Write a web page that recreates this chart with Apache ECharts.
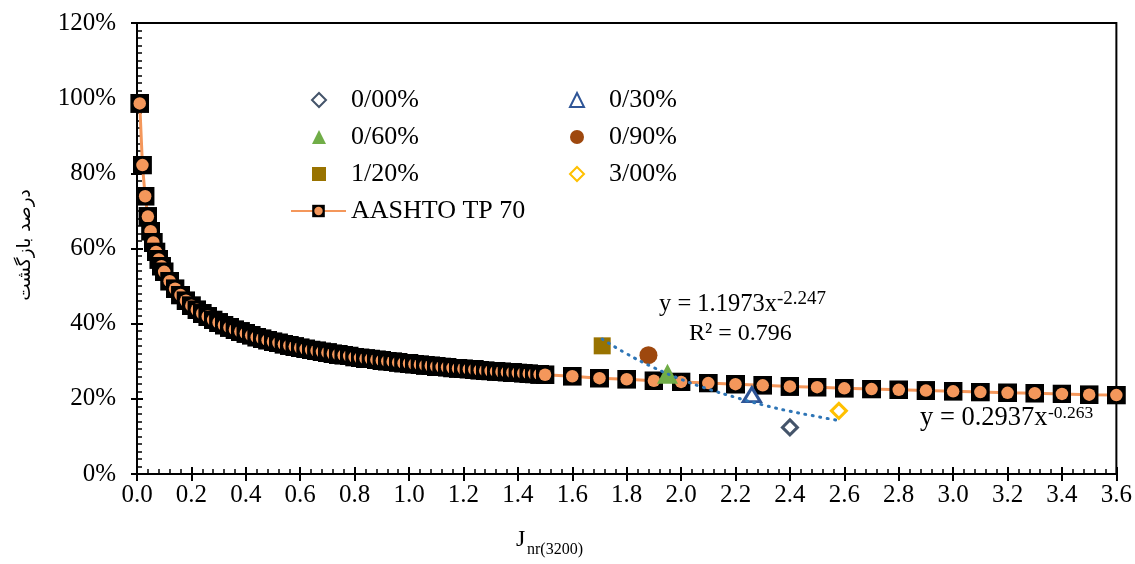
<!DOCTYPE html>
<html>
<head>
<meta charset="utf-8">
<script src="https://cdn.jsdelivr.net/npm/echarts@6/dist/echarts.min.js"></script>
<style>
  html, body { margin: 0; padding: 0; background: #ffffff; }
  #chart { width: 1135px; height: 564px; }
</style>
</head>
<body>
<div id="chart"></div>
<script>
// AASHTO TP 70 reference curve: Jnr(3200) values and percent recovery
const aashtoX = [
  0.01, 0.02, 0.03, 0.04, 0.05, 0.06, 0.07, 0.08, 0.09,
  0.10, 0.12, 0.14, 0.16, 0.18, 0.20, 0.22, 0.24, 0.26, 0.28,
  0.30, 0.32, 0.34, 0.36, 0.38, 0.40, 0.42, 0.44, 0.46, 0.48,
  0.50, 0.52, 0.54, 0.56, 0.58, 0.60, 0.62, 0.64, 0.66, 0.68,
  0.70, 0.72, 0.74, 0.76, 0.78, 0.80, 0.82, 0.84, 0.86, 0.88,
  0.90, 0.92, 0.94, 0.96, 0.98, 1.00, 1.02, 1.04, 1.06, 1.08,
  1.10, 1.12, 1.14, 1.16, 1.18, 1.20, 1.22, 1.24, 1.26, 1.28,
  1.30, 1.32, 1.34, 1.36, 1.38, 1.40, 1.42, 1.44, 1.46, 1.48,
  1.50,
  1.6, 1.7, 1.8, 1.9, 2.0, 2.1, 2.2, 2.3, 2.4, 2.5,
  2.6, 2.7, 2.8, 2.9, 3.0, 3.1, 3.2, 3.3, 3.4, 3.5, 3.6
];
const aashtoRecovery = [
  98.6, 82.2, 73.9, 68.5, 64.6, 61.6, 59.1, 57.1, 55.3,
  53.8, 51.3, 49.3, 47.6, 46.1, 44.8, 43.7, 42.7, 41.9, 41.0,
  40.3, 39.6, 39.0, 38.4, 37.9, 37.4, 36.9, 36.4, 36.0, 35.6,
  35.2, 34.9, 34.5, 34.2, 33.9, 33.6, 33.3, 33.0, 32.8, 32.5,
  32.3, 32.0, 31.8, 31.6, 31.4, 31.1, 30.9, 30.7, 30.6, 30.4,
  30.2, 30.0, 29.9, 29.7, 29.5, 29.4, 29.2, 29.1, 28.9, 28.8,
  28.6, 28.5, 28.4, 28.2, 28.1, 28.0, 27.9, 27.8, 27.6, 27.5,
  27.4, 27.3, 27.2, 27.1, 27.0, 26.9, 26.8, 26.7, 26.6, 26.5,
  26.4,
  26.0, 25.5, 25.2, 24.8, 24.5, 24.2, 23.9, 23.6, 23.3, 23.1,
  22.8, 22.6, 22.4, 22.2, 22.0, 21.8, 21.6, 21.5, 21.3, 21.1, 21.0
];

// Measured binders (additive content) – Jnr(3200) and percent recovery
const mixNames = ['0/00%', '0/30%', '0/60%', '0/90%', '1/20%', '3/00%'];
const mixJnr = [2.40, 2.26, 1.95, 1.88, 1.71, 2.58];
const mixRecovery = [12.4, 21.1, 26.7, 31.6, 34.1, 16.8];

// Power trend through the measured binders
const fitJnr = [1.71, 1.8, 1.9, 2.0, 2.1, 2.2, 2.3, 2.4, 2.5, 2.58];
const fitRecovery = [35.9, 32.0, 28.3, 25.2, 22.6, 20.4, 18.4, 16.7, 15.3, 14.2];

// Axis ticks
const xTicks = { min: 0, max: 3.6, step: 0.2 };
const yTicks = { min: 0, max: 120, step: 20 };

const SERIF = '"Liberation Serif", "Times New Roman", serif';
const ORANGE = '#F4975B';

// Black square with an orange dot, used for the AASHTO markers
const markerSvg =
  "<svg xmlns='http://www.w3.org/2000/svg' width='38' height='38'>" +
  "<rect x='0' y='0' width='38' height='38' fill='#000000'/>" +
  "<circle cx='19' cy='19' r='12.5' fill='" + ORANGE + "'/></svg>";
const aashtoSymbol = 'image://data:image/svg+xml;charset=utf-8,' + encodeURIComponent(markerSvg);

const mixStyles = {
  '0/00%': { symbol: 'diamond', size: 15, itemStyle: { color: '#ffffff', borderColor: '#44546A', borderWidth: 3, opacity: 1 } },
  '0/30%': { symbol: 'triangle', size: [17, 14], itemStyle: { color: '#ffffff', borderColor: '#2F5597', borderWidth: 3, opacity: 1 } },
  '0/60%': { symbol: 'triangle', size: [21, 20], itemStyle: { color: '#70AD47', opacity: 1 } },
  '0/90%': { symbol: 'circle', size: 18, itemStyle: { color: '#9E480E', opacity: 1 } },
  '1/20%': { symbol: 'rect', size: 17, itemStyle: { color: '#997300', opacity: 1 } },
  '3/00%': { symbol: 'diamond', size: 15, itemStyle: { color: '#ffffff', borderColor: '#FFC000', borderWidth: 3, opacity: 1 } }
};

const chart = echarts.init(document.getElementById('chart'), null, { renderer: 'canvas' });

function valueAxis(range, extra) {
  const base = {
    type: 'value',
    min: range.min,
    max: range.max,
    interval: range.step,
    splitLine: { show: false },
    minorSplitLine: { show: false }
  };
  return Object.assign(base, extra);
}

const mixSeries = mixNames.map((name, i) => ({
  name: name,
  type: 'scatter',
  xAxisIndex: 0,
  yAxisIndex: 0,
  data: [[mixJnr[i], mixRecovery[i]]],
  symbol: mixStyles[name].symbol,
  symbolSize: mixStyles[name].size,
  itemStyle: mixStyles[name].itemStyle,
  z: 4
}));

const legendText = { color: '#000', fontFamily: SERIF, fontSize: 26 };

const option = {
  animation: false,
  backgroundColor: '#ffffff',
  grid: {
    left: 137, right: 17, top: 23, bottom: 90,
    show: true, borderColor: '#000000', borderWidth: 2, backgroundColor: 'transparent'
  },
  xAxis: [
    valueAxis(xTicks, {
      position: 'bottom',
      axisLine: { show: true, lineStyle: { color: '#000', width: 2 } },
      axisTick: { show: true, inside: false, length: 7, lineStyle: { color: '#000', width: 2 } },
      axisLabel: {
        margin: 9, color: '#000', fontFamily: SERIF, fontSize: 25,
        formatter: v => v.toFixed(1)
      }
    }),
    valueAxis(xTicks, {
      position: 'bottom',
      axisLine: { show: false },
      axisLabel: { show: false },
      axisTick: { show: true, inside: true, length: 7, lineStyle: { color: '#000', width: 2 } },
      minorTick: { show: true, splitNumber: 5, length: 5, lineStyle: { color: '#000', width: 1.5 } }
    })
  ],
  yAxis: [
    valueAxis(yTicks, {
      position: 'left',
      axisLine: { show: true, lineStyle: { color: '#000', width: 2 } },
      axisTick: { show: true, inside: false, length: 6, lineStyle: { color: '#000', width: 2 } },
      axisLabel: {
        margin: 21, color: '#000', fontFamily: SERIF, fontSize: 25,
        formatter: '{value}%'
      }
    }),
    valueAxis(yTicks, {
      position: 'left',
      axisLine: { show: false },
      axisLabel: { show: false },
      axisTick: { show: true, inside: true, length: 6, lineStyle: { color: '#000', width: 2 } },
      minorTick: { show: true, splitNumber: 10, length: 5, lineStyle: { color: '#000', width: 1.5 } }
    })
  ],
  legend: [
    {
      data: ['0/00%', '0/60%', '1/20%'],
      orient: 'vertical', left: 306, top: 82, z: 6,
      itemWidth: 14, itemHeight: 14, itemGap: 11,
      textStyle: Object.assign({ padding: [0, 0, 0, 20] }, legendText)
    },
    {
      data: ['0/30%', '0/90%', '3/00%'],
      orient: 'vertical', left: 564, top: 82, z: 6,
      itemWidth: 14, itemHeight: 14, itemGap: 11,
      textStyle: Object.assign({ padding: [0, 0, 0, 20] }, legendText)
    },
    {
      data: ['AASHTO TP 70'],
      orient: 'vertical', left: 285, top: 193, z: 6,
      itemWidth: 55, itemHeight: 16,
      textStyle: legendText
    }
  ],
  series: [
    {
      name: 'AASHTO TP 70',
      type: 'line',
      xAxisIndex: 0,
      yAxisIndex: 0,
      data: aashtoX.map((x, i) => [x, aashtoRecovery[i]]),
      symbol: aashtoSymbol,
      symbolSize: 19,
      showAllSymbol: true,
      lineStyle: { color: ORANGE, width: 3 },
      itemStyle: { color: ORANGE },
      z: 2
    }
  ].concat(mixSeries).concat([
    {
      name: 'power trend',
      type: 'line',
      xAxisIndex: 0,
      yAxisIndex: 0,
      data: fitJnr.map((x, i) => [x, fitRecovery[i]]),
      smooth: true,
      showSymbol: false,
      symbol: 'none',
      lineStyle: { color: '#2E75B6', width: 3, type: [1, 6.5], cap: 'round' },
      z: 5
    }
  ]),
  graphic: [
    { type: 'text', x: 659, y: 304.5, z: 10,
      style: { text: 'y = 1.1973x', font: '24.5px ' + SERIF, fill: '#000', align: 'left', verticalAlign: 'middle' } },
    { type: 'text', x: 777, y: 299, z: 10,
      style: { text: '-2.247', font: '19px ' + SERIF, fill: '#000', align: 'left', verticalAlign: 'middle' } },
    { type: 'text', x: 689, y: 334, z: 10,
      style: { text: 'R² = 0.796', font: '24px ' + SERIF, fill: '#000', align: 'left', verticalAlign: 'middle' } },
    { type: 'text', x: 920, y: 418.5, z: 10,
      style: { text: 'y = 0.2937x', font: '26.5px ' + SERIF, fill: '#000', align: 'left', verticalAlign: 'middle' } },
    { type: 'text', x: 1048, y: 413.5, z: 10,
      style: { text: '-0.263', font: '17.5px ' + SERIF, fill: '#000', align: 'left', verticalAlign: 'middle' } },
    { type: 'text', x: 516, y: 539.5, z: 10,
      style: { text: 'J', font: '24px ' + SERIF, fill: '#000', align: 'left', verticalAlign: 'middle' } },
    { type: 'text', x: 527, y: 550, z: 10,
      style: { text: 'nr(3200)', font: '16px ' + SERIF, fill: '#000', align: 'left', verticalAlign: 'middle' } },
    { type: 'text', x: 25, y: 245, rotation: Math.PI / 2, z: 10,
      style: { text: 'درصد بازگشت', font: '18.5px "DejaVu Sans"', fill: '#000', align: 'center', verticalAlign: 'middle' } }
  ]
};

chart.setOption(option);
</script>
</body>
</html>
